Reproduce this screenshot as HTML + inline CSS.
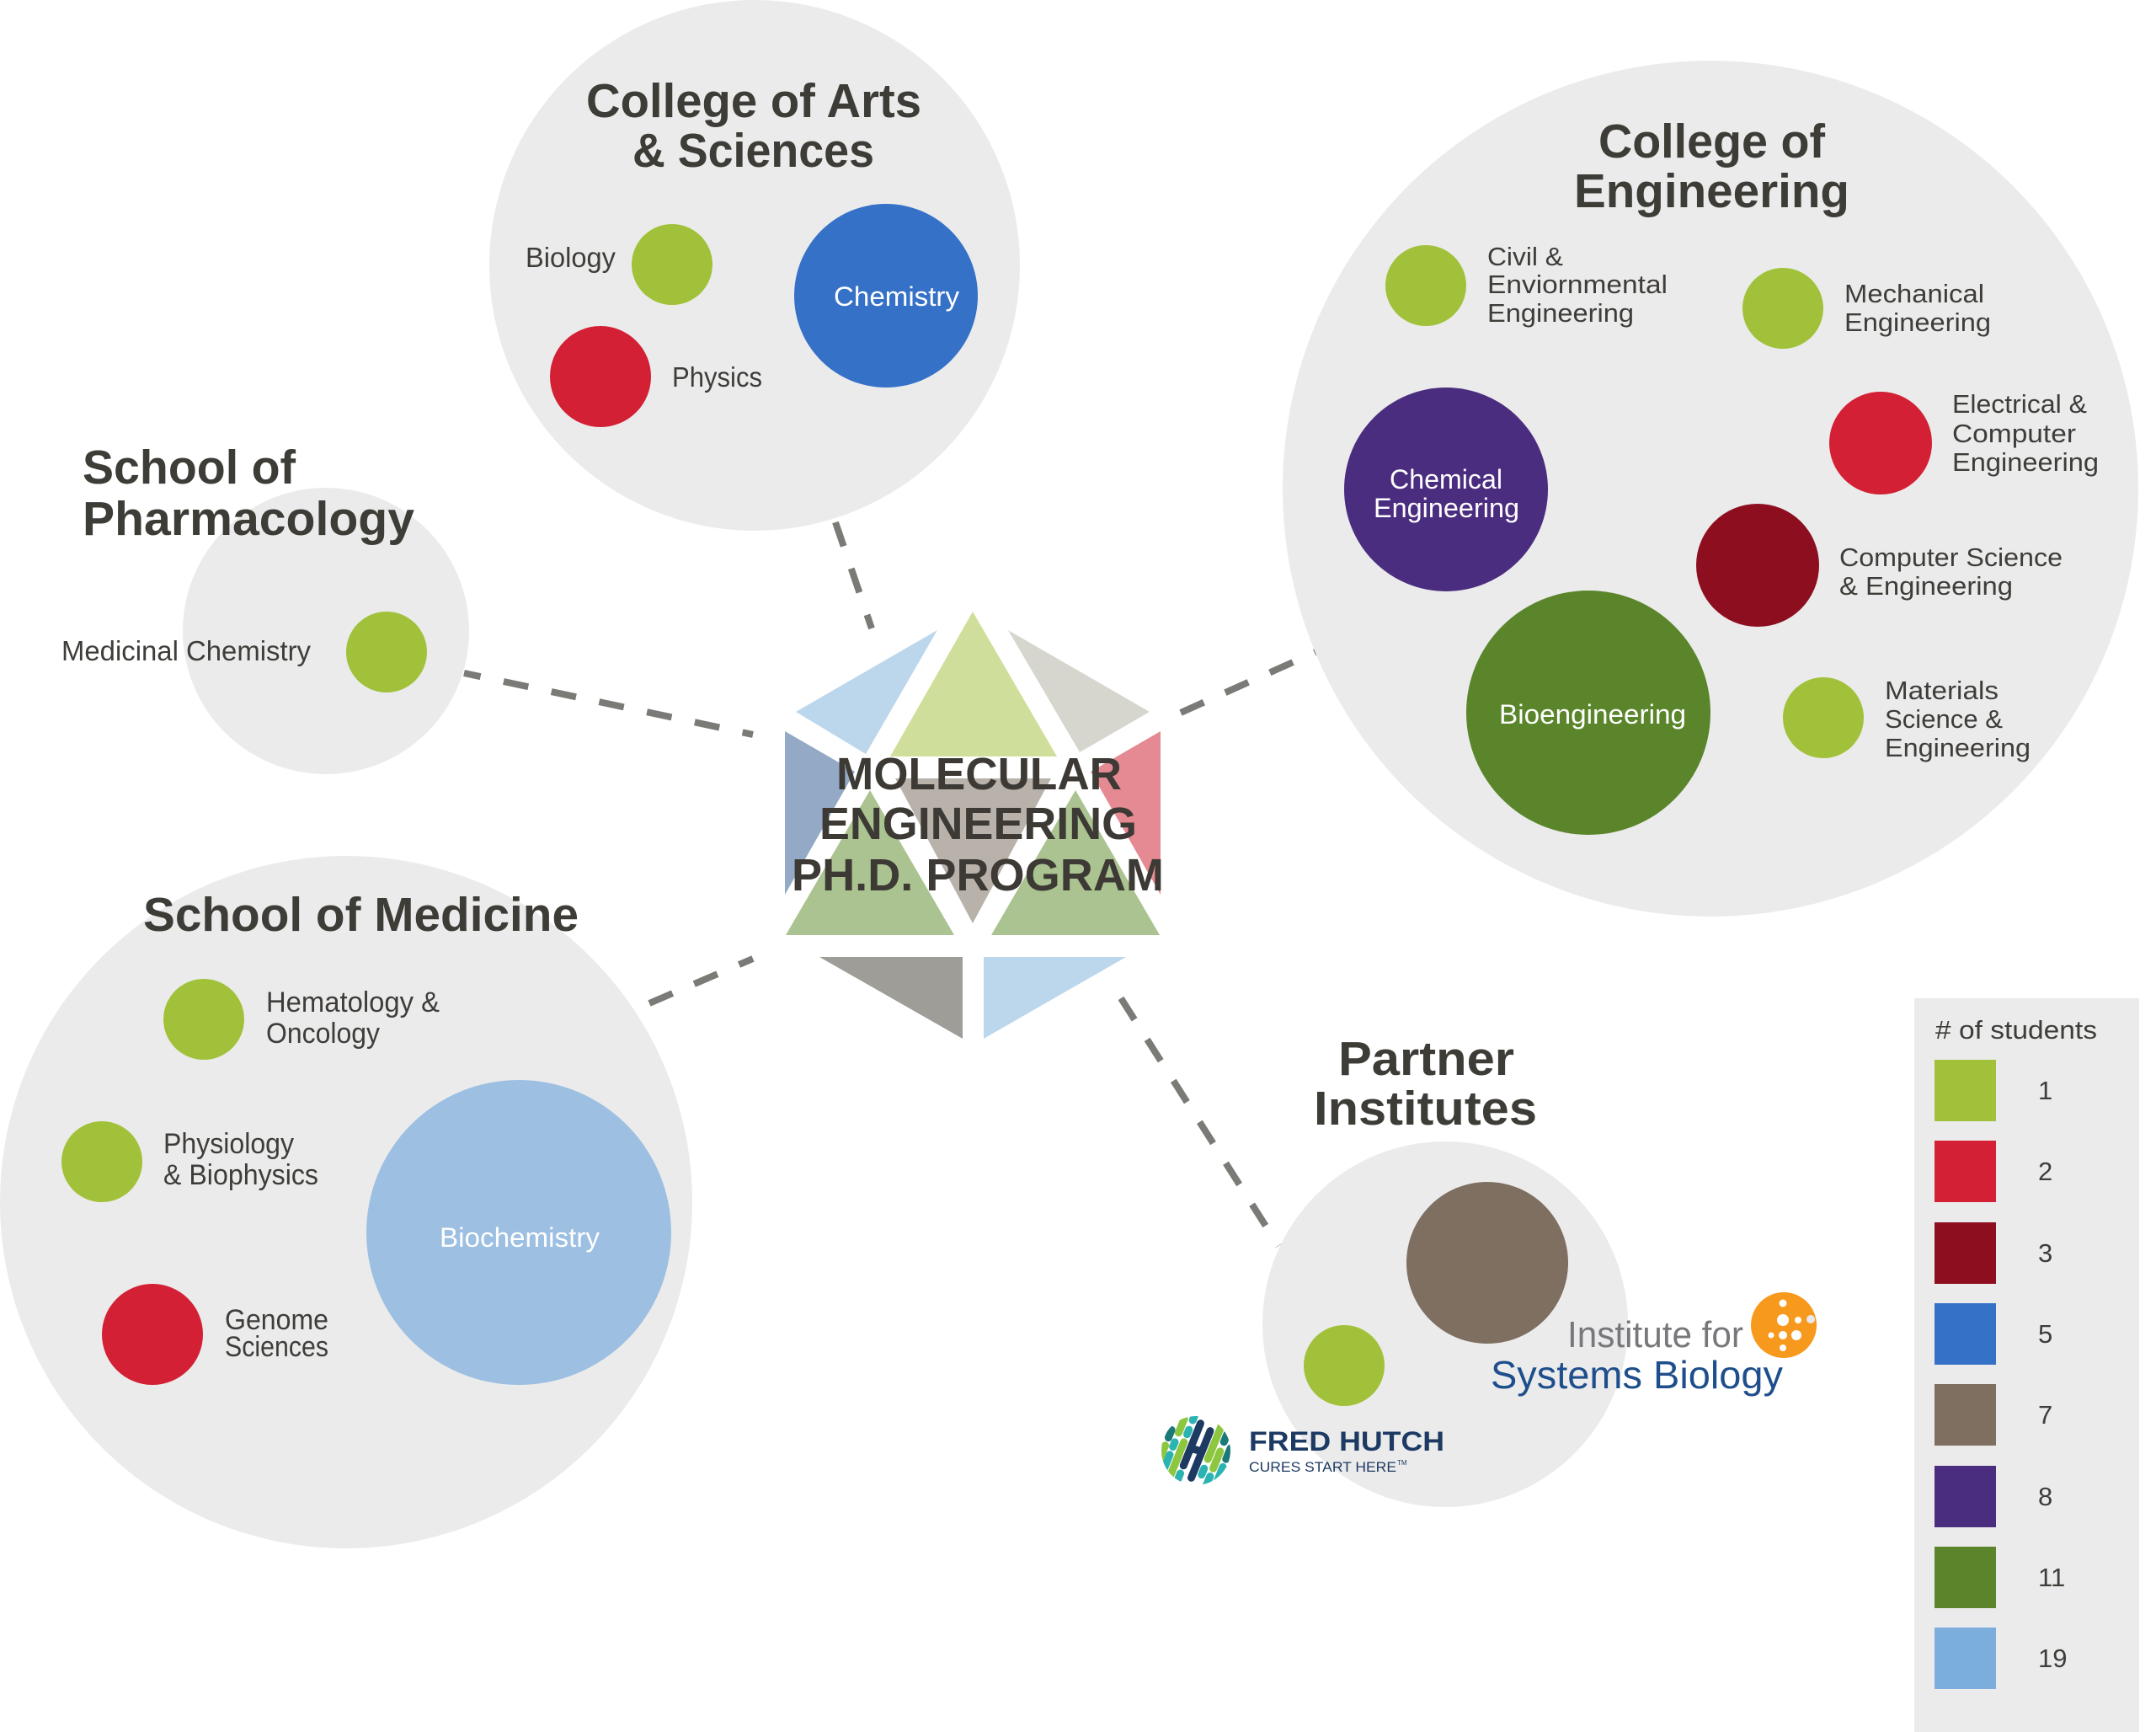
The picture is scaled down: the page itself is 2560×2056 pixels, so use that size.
<!DOCTYPE html>
<html><head><meta charset="utf-8"><style>html,body{margin:0;padding:0;background:#fff}svg{display:block}</style></head>
<body>
<svg width="2560" height="2056" viewBox="0 0 2560 2056" xmlns="http://www.w3.org/2000/svg" font-family="'Liberation Sans', Arial, sans-serif">
<rect width="2560" height="2056" fill="#ffffff"/>

<!-- dashed connectors -->
<g stroke="#7a7a77" stroke-width="8" stroke-dasharray="30 28" fill="none">
  <line x1="551" y1="799" x2="894" y2="872" stroke-dashoffset="10"/>
  <line x1="992" y1="620" x2="1035" y2="746"/>
  <line x1="1402" y1="846" x2="1562" y2="774"/>
  <line x1="771" y1="1191" x2="894" y2="1138"/>
  <line x1="1331" y1="1185" x2="1518" y2="1479"/>
</g>

<!-- big gray circles -->
<g fill="#ebebeb">
  <circle cx="896" cy="315" r="315"/>
  <circle cx="387" cy="749" r="170"/>
  <circle cx="2031" cy="580" r="508"/>
  <circle cx="411" cy="1427" r="411"/>
  <circle cx="1716" cy="1572" r="217"/>
</g>

<!-- Arts & Sciences -->
<g fill="#3e3c37" font-weight="bold" font-size="57">
  <text x="696" y="139" textLength="398" lengthAdjust="spacingAndGlyphs">College of Arts</text>
  <text x="751" y="198" textLength="287" lengthAdjust="spacingAndGlyphs">&amp; Sciences</text>
  <text x="98" y="574" textLength="253" lengthAdjust="spacingAndGlyphs">School of</text>
  <text x="98" y="635" textLength="394" lengthAdjust="spacingAndGlyphs">Pharmacology</text>
  <text x="1898" y="187" textLength="269" lengthAdjust="spacingAndGlyphs">College of</text>
  <text x="1869" y="246" textLength="327" lengthAdjust="spacingAndGlyphs">Engineering</text>
  <text x="170" y="1105" textLength="517" lengthAdjust="spacingAndGlyphs">School of Medicine</text>
  <text x="1589" y="1276" textLength="209" lengthAdjust="spacingAndGlyphs">Partner</text>
  <text x="1560" y="1335" textLength="265" lengthAdjust="spacingAndGlyphs">Institutes</text>
</g>

<!-- colored circles -->
<circle cx="798" cy="314" r="48" fill="#a1c13a"/>
<circle cx="713" cy="447" r="60" fill="#d32035"/>
<circle cx="1052" cy="351" r="109" fill="#3671c8"/>
<circle cx="459" cy="774" r="48" fill="#a1c13a"/>

<circle cx="1693" cy="339" r="48" fill="#a1c13a"/>
<circle cx="2117" cy="366" r="48" fill="#a1c13a"/>
<circle cx="1717" cy="581" r="121" fill="#4b2d80"/>
<circle cx="2233" cy="526" r="61" fill="#d32035"/>
<circle cx="2087" cy="671" r="73" fill="#8d0e1f"/>
<circle cx="1886" cy="846" r="145" fill="#5a852b"/>
<circle cx="2165" cy="852" r="48" fill="#a1c13a"/>

<circle cx="242" cy="1210" r="48" fill="#a1c13a"/>
<circle cx="121" cy="1379" r="48" fill="#a1c13a"/>
<circle cx="181" cy="1584" r="60" fill="#d32035"/>
<circle cx="616" cy="1463" r="181" fill="#9dbfe2"/>

<circle cx="1766" cy="1499" r="96" fill="#7e6f61"/>
<circle cx="1596" cy="1621" r="48" fill="#a1c13a"/>

<!-- labels -->
<g fill="#3f3d39" font-size="33">
  <text x="624" y="317" textLength="107" lengthAdjust="spacingAndGlyphs">Biology</text>
  <text x="798" y="459" textLength="107" lengthAdjust="spacingAndGlyphs">Physics</text>
  <text x="73" y="784" textLength="296" lengthAdjust="spacingAndGlyphs">Medicinal Chemistry</text>
</g>
<g fill="#3f3d39" font-size="31">
  <text x="1766" y="315" textLength="90" lengthAdjust="spacingAndGlyphs">Civil &amp;</text>
  <text x="1766" y="348" textLength="214" lengthAdjust="spacingAndGlyphs">Enviornmental</text>
  <text x="1766" y="382" textLength="174" lengthAdjust="spacingAndGlyphs">Engineering</text>
  <text x="2190" y="359" textLength="166" lengthAdjust="spacingAndGlyphs">Mechanical</text>
  <text x="2190" y="393" textLength="174" lengthAdjust="spacingAndGlyphs">Engineering</text>
  <text x="2318" y="490" textLength="160" lengthAdjust="spacingAndGlyphs">Electrical &amp;</text>
  <text x="2318" y="525" textLength="147" lengthAdjust="spacingAndGlyphs">Computer</text>
  <text x="2318" y="559" textLength="174" lengthAdjust="spacingAndGlyphs">Engineering</text>
  <text x="2184" y="672" textLength="265" lengthAdjust="spacingAndGlyphs">Computer Science</text>
  <text x="2184" y="706" textLength="206" lengthAdjust="spacingAndGlyphs">&amp; Engineering</text>
  <text x="2238" y="830" textLength="135" lengthAdjust="spacingAndGlyphs">Materials</text>
  <text x="2238" y="864" textLength="140" lengthAdjust="spacingAndGlyphs">Science &amp;</text>
  <text x="2238" y="898" textLength="173" lengthAdjust="spacingAndGlyphs">Engineering</text>
</g>
<g fill="#3f3d39" font-size="34">
  <text x="316" y="1201" textLength="206" lengthAdjust="spacingAndGlyphs">Hematology &amp;</text>
  <text x="316" y="1238" textLength="135" lengthAdjust="spacingAndGlyphs">Oncology</text>
  <text x="194" y="1369" textLength="155" lengthAdjust="spacingAndGlyphs">Physiology</text>
  <text x="194" y="1406" textLength="184" lengthAdjust="spacingAndGlyphs">&amp; Biophysics</text>
  <text x="267" y="1578" textLength="123" lengthAdjust="spacingAndGlyphs">Genome</text>
  <text x="267" y="1610" textLength="123" lengthAdjust="spacingAndGlyphs">Sciences</text>
</g>
<g fill="#ffffff" font-size="32">
  <text x="990" y="363" textLength="149" lengthAdjust="spacingAndGlyphs">Chemistry</text>
  <text x="1650" y="580" textLength="134" lengthAdjust="spacingAndGlyphs">Chemical</text>
  <text x="1631" y="614" textLength="173" lengthAdjust="spacingAndGlyphs">Engineering</text>
  <text x="1780" y="859" textLength="222" lengthAdjust="spacingAndGlyphs">Bioengineering</text>
  <text x="522" y="1480" textLength="190" lengthAdjust="spacingAndGlyphs">Biochemistry</text>
</g>

<!-- central hexagon logo -->
<g>
  <polygon points="1155,726 1057,898 1255,898" fill="#cfdf9b"/>
  <polygon points="945,845 1113,748 1028,895" fill="#bcd6ec"/>
  <polygon points="1197,748 1365,845 1282,893" fill="#d6d6cf"/>
  <polygon points="932,868 932,1062 1015,916" fill="#93a9c5"/>
  <polygon points="1378,868 1378,1062 1295,916" fill="#e58a93"/>
  <polygon points="1063,924 1248,924 1155,1096" fill="#b8b2ab"/>
  <polygon points="1033,938 933,1110 1133,1110" fill="#aac390"/>
  <polygon points="1277,938 1177,1110 1377,1110" fill="#aac390"/>
  <polygon points="973,1136 1143,1136 1143,1233" fill="#9e9d98"/>
  <polygon points="1168,1136 1337,1136 1168,1233" fill="#bcd6ec"/>
</g>
<g fill="#3d3a35" font-weight="bold" font-size="54">
  <text x="993" y="937" textLength="339" lengthAdjust="spacingAndGlyphs">MOLECULAR</text>
  <text x="973" y="996" textLength="377" lengthAdjust="spacingAndGlyphs">ENGINEERING</text>
  <text x="940" y="1057" textLength="442" lengthAdjust="spacingAndGlyphs">PH.D. PROGRAM</text>
</g>

<!-- Institute for Systems Biology logo -->
<text x="1861" y="1599" font-size="44" fill="#77787b" textLength="209" lengthAdjust="spacingAndGlyphs">Institute for</text>
<text x="1770" y="1648" font-size="46" fill="#1e4f8c" textLength="347" lengthAdjust="spacingAndGlyphs">Systems Biology</text>
<circle cx="2118" cy="1573" r="39" fill="#f7991c"/>
<g fill="#ffffff">
  <circle cx="2117" cy="1547" r="4.5"/>
  <circle cx="2117" cy="1567" r="7"/>
  <circle cx="2135" cy="1567" r="4"/>
  <circle cx="2150" cy="1566" r="5" fill="#e8e8ee"/>
  <circle cx="2103" cy="1585" r="3.5"/>
  <circle cx="2117" cy="1585" r="5"/>
  <circle cx="2133" cy="1585" r="6"/>
  <circle cx="2117" cy="1600" r="4"/>
</g>

<!-- Fred Hutch logo -->
<defs>
  <clipPath id="fh"><circle cx="1420" cy="1722" r="41"/></clipPath>
</defs>
<g clip-path="url(#fh)">
  <g transform="translate(1420,1722) rotate(22)" stroke-linecap="round" stroke-width="9" fill="none">
    <line x1="-36" y1="-12" x2="-36" y2="-2" stroke="#1b7a78"/>
    <line x1="-36" y1="8" x2="-36" y2="30" stroke="#8dc63f"/>
    <line x1="-27" y1="-30" x2="-27" y2="-12" stroke="#8dc63f"/>
    <line x1="-27" y1="0" x2="-27" y2="6" stroke="#2bb3b1"/>
    <line x1="-27" y1="16" x2="-27" y2="36" stroke="#2bb3b1"/>
    <line x1="-17" y1="-40" x2="-17" y2="-32" stroke="#2bb3b1"/>
    <line x1="-17" y1="-20" x2="-17" y2="-14" stroke="#2bb3b1"/>
    <line x1="-17" y1="-4" x2="-17" y2="40" stroke="#8dc63f"/>
    <line x1="-7" y1="-32" x2="-7" y2="22" stroke="#1d3a62"/>
    <line x1="-7" y1="0" x2="7" y2="-2" stroke="#1d3a62"/>
    <line x1="7" y1="-28" x2="7" y2="32" stroke="#1d3a62"/>
    <line x1="17" y1="-40" x2="17" y2="4" stroke="#8dc63f"/>
    <line x1="17" y1="16" x2="17" y2="24" stroke="#2bb3b1"/>
    <line x1="27" y1="-32" x2="27" y2="-22" stroke="#1b7a78"/>
    <line x1="27" y1="-10" x2="27" y2="12" stroke="#8dc63f"/>
    <line x1="27" y1="22" x2="27" y2="40" stroke="#2bb3b1"/>
    <line x1="37" y1="-18" x2="37" y2="-4" stroke="#1b7a78"/>
    <line x1="37" y1="6" x2="37" y2="26" stroke="#2bb3b1"/>
    <line x1="-7" y1="32" x2="-7" y2="40" stroke="#2bb3b1"/>
  </g>
</g>
<text x="1483" y="1722" font-size="32" font-weight="bold" fill="#1d3a62" textLength="232" lengthAdjust="spacingAndGlyphs">FRED HUTCH</text>
<text x="1483" y="1747" font-size="17" fill="#1d3a62" textLength="175" lengthAdjust="spacingAndGlyphs">CURES START HERE</text>
<text x="1659" y="1739" font-size="8" fill="#1d3a62">TM</text>

<!-- legend -->
<rect x="2273" y="1185" width="267" height="871" fill="#ebebeb"/>
<text x="2298" y="1233" font-size="31" fill="#3f3d39" textLength="192" lengthAdjust="spacingAndGlyphs"># of students</text>
<g>
  <rect x="2297" y="1258" width="73" height="73" fill="#a2c13b"/>
  <rect x="2297" y="1354" width="73" height="73" fill="#d42035"/>
  <rect x="2297" y="1451" width="73" height="73" fill="#8d0e1f"/>
  <rect x="2297" y="1547" width="73" height="73" fill="#3671c8"/>
  <rect x="2297" y="1643" width="73" height="73" fill="#7e6f61"/>
  <rect x="2297" y="1740" width="73" height="73" fill="#4b2d80"/>
  <rect x="2297" y="1836" width="73" height="73" fill="#5a852b"/>
  <rect x="2297" y="1932" width="73" height="73" fill="#7baedc"/>
</g>
<g font-size="31" fill="#3f3d39">
  <text x="2420" y="1305">1</text>
  <text x="2420" y="1401">2</text>
  <text x="2420" y="1498">3</text>
  <text x="2420" y="1594">5</text>
  <text x="2420" y="1690">7</text>
  <text x="2420" y="1787">8</text>
  <text x="2420" y="1883">11</text>
  <text x="2420" y="1979">19</text>
</g>
</svg>
</body></html>
